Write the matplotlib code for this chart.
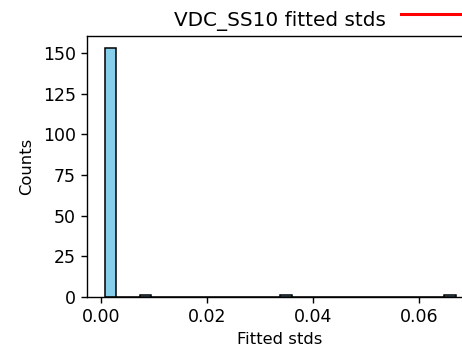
import matplotlib
matplotlib.use("Agg")
import matplotlib.pyplot as plt
from matplotlib.lines import Line2D

# Representative std values (one per occupied bin) and their counts
std_values = [0.0006, 0.0085, 0.0347, 0.0669]
counts = [153, 1, 1, 1]
n_bins = 30

plt.rcParams["xtick.major.size"] = 4.5
plt.rcParams["ytick.major.size"] = 4.5
plt.rcParams["xtick.major.width"] = 1.0
plt.rcParams["ytick.major.width"] = 1.0
plt.rcParams["axes.linewidth"] = 1.0

fig = plt.figure(figsize=(4.62, 3.47), dpi=100)
ax = fig.add_axes([0.1883, 0.145, 1.024 - 0.1883, 0.896 - 0.145])
ax.hist(std_values, bins=n_bins, weights=counts, color="skyblue",
        edgecolor="black", linewidth=1.1)
ax.margins(x=0.05, y=0.05)
ax.set_ylim(0, max(counts) * 1.05)
ax.set_xticks([0.00, 0.02, 0.04, 0.06])
ax.set_yticks([0, 25, 50, 75, 100, 125, 150])
ax.tick_params(labelsize=12.5)
ax.set_xlabel("Fitted stds", fontsize=11.8, labelpad=4.5)
ax.set_ylabel("Counts", fontsize=11.8, labelpad=6.5)
ax.set_title("VDC_SS10 fitted stds", fontsize=14.4, pad=7)

fig.add_artist(Line2D([401/462, 1.0], [1 - 13.5/347, 1 - 13.5/347],
                      color="red", linewidth=2.2, transform=fig.transFigure))

fig.savefig("out.png", dpi=100)
